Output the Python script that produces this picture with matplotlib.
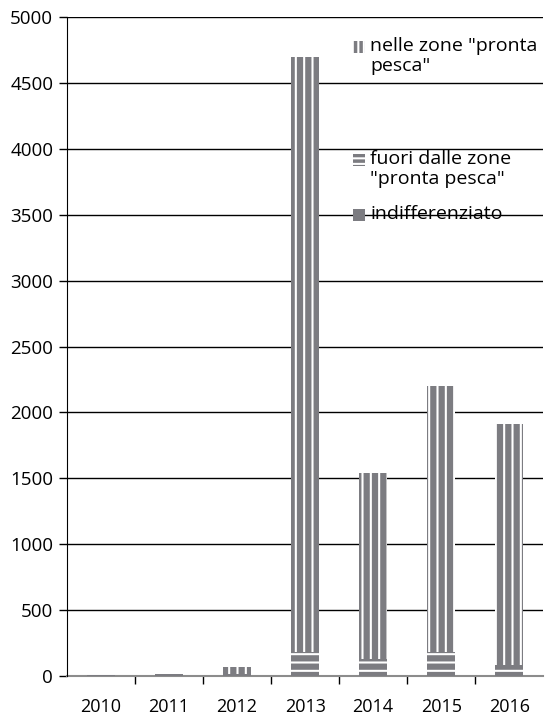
import matplotlib.pyplot as plt
import numpy as np
from matplotlib.patches import Rectangle

years = ['2010', '2011', '2012', '2013', '2014', '2015', '2016']
indifferenziato = [8, 12, 0, 0, 0, 0, 0]
fuori_zone = [0, 0, 12, 185, 130, 180, 80]
nelle_zone = [0, 0, 55, 4515, 1410, 2020, 1830]

BAR = '#7c7c81'
plt.rcParams['font.family'] = ['Open Sans', 'DejaVu Sans']
plt.rcParams['hatch.color'] = 'white'
plt.rcParams['hatch.linewidth'] = 1.5

fig = plt.figure(figsize=(5.48, 7.18), dpi=100)
ax = fig.add_axes([0.1223, 0.0585, 0.869, 0.9178])

x = np.arange(len(years))
w = 0.41
bottom = np.array(indifferenziato, dtype=float)
ax.bar(x, indifferenziato, w, color=BAR, linewidth=0, zorder=3)
ax.bar(x, fuori_zone, w, bottom=bottom, color=BAR, hatch='--', linewidth=0, zorder=3)
bottom += np.array(fuori_zone)
ax.bar(x, nelle_zone, w, bottom=bottom, color=BAR, hatch='||', linewidth=0, zorder=3)

ax.set_xlim(-0.5, len(years) - 0.5)
ax.set_ylim(0, 5000)
ax.set_yticks(np.arange(0, 5001, 500))
ax.yaxis.grid(True, color='black', linewidth=1.0, zorder=0)
ax.set_axisbelow(True)

ax.set_xticks(x)
ax.set_xticklabels(years)
ax.set_xticks(np.arange(0.5, len(years) - 0.5, 1), minor=True)
ax.tick_params(axis='x', which='major', length=0, labelsize=13, pad=16)
ax.tick_params(axis='x', which='minor', length=6, width=1, color='black')
ax.tick_params(axis='y', length=6, width=1, labelsize=13.5, pad=4)

for side in ['top', 'right']:
    ax.spines[side].set_visible(False)
ax.spines['left'].set_color('black')
ax.spines['bottom'].set_color('#8c8c8c')
ax.spines['bottom'].set_linewidth(1.5)
ax.spines['left'].set_zorder(4)

# legend drawn by hand so entries sit where they should
entries = [
    ('|||', 'nelle zone "pronta\npesca"', 47),
    ('---', 'fuori dalle zone\n"pronta pesca"', 160),
    ('', 'indifferenziato', 215),
]
for hatch, label, ypix in entries:
    yf = 1 - ypix / 718
    fig.patches.append(Rectangle((353 / 548, yf - 6 / 718), 12 / 548, 12 / 718,
                                 transform=fig.transFigure, facecolor=BAR,
                                 hatch=hatch or None, linewidth=0))
    fig.text(370 / 548, yf + 10 / 718, label, fontsize=14, va='top', ha='left',
             linespacing=1.15)

fig.savefig('out.png', dpi=100)
